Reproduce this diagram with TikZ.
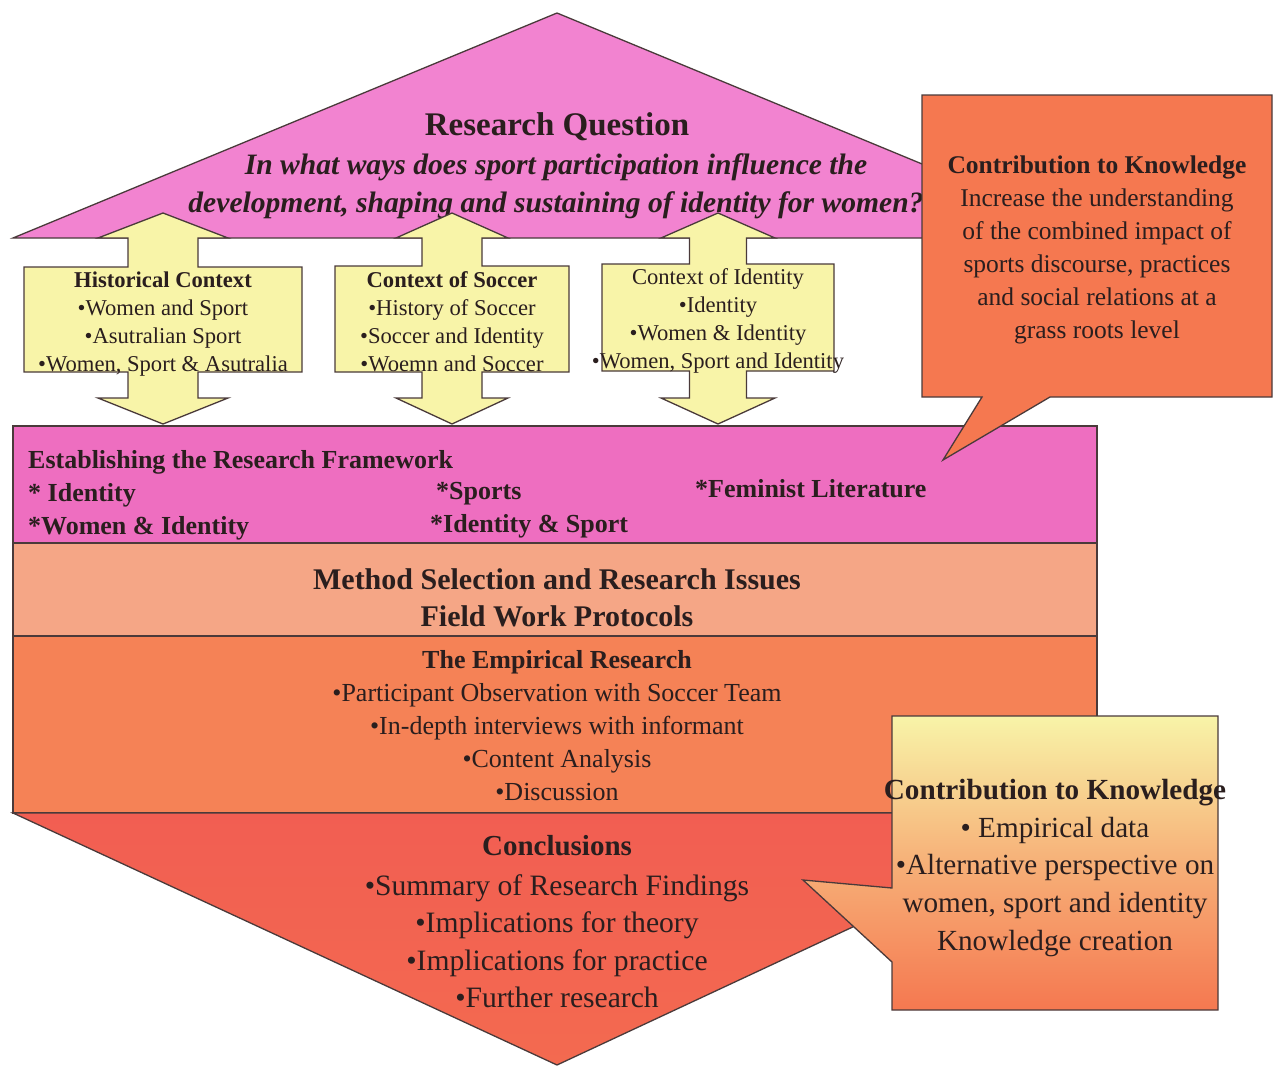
\documentclass[tikz,border=0pt]{standalone}
\usepackage{fontspec}
\setmainfont{Liberation Serif}
\definecolor{tri}{HTML}{F283D0}
\definecolor{bandpink}{HTML}{EE6EC0}
\definecolor{salmon}{HTML}{F5A686}
\definecolor{orng}{HTML}{F58256}
\definecolor{concl}{HTML}{F25E52}
\definecolor{conclb}{HTML}{F36A50}
\definecolor{callA}{HTML}{F57850}
\definecolor{yel}{HTML}{F8F4A8}
\definecolor{edge}{HTML}{4A3A3A}
\definecolor{ink}{HTML}{2A1E1E}
\tikzset{
  shapeline/.style={draw=edge, line width=1.3pt, line join=miter},
  txt/.style={inner sep=0pt, text=ink, align=center},
}
\newcommand\udarrow[7]{%
 \filldraw[shapeline, fill=yel] (#1,213) -- (#1+#2,238) -- (#1+#3,238) -- (#1+#3,#6) -- (#5,#6) -- (#5,#7) -- (#1+#3,#7) -- (#1+#3,398) -- (#1+#2,398) -- (#1,424) -- (#1-#2,398) -- (#1-#3,398) -- (#1-#3,#7) -- (#4,#7) -- (#4,#6) -- (#1-#3,#6) -- (#1-#3,238) -- (#1-#2,238) -- cycle;}
\begin{document}
\begin{tikzpicture}[x=1pt, y=-1pt]
\useasboundingbox (0,0) rectangle (1278,1068);
% top triangle
\filldraw[shapeline, fill=tri] (557,13) -- (1101,238) -- (13,238) -- cycle;
\node[txt, font=\fontsize{33}{36}\selectfont\bfseries, anchor=base] (rq) at (557,135) {Research Question};
\node[txt, font=\fontsize{29.6}{38}\selectfont\bfseries\itshape] (rqt) at (556,186) {In what ways does sport participation influence the\\development, shaping and sustaining of identity for women?};
% double arrows
\udarrow{163}{65}{35}{24}{302}{267}{372}
\udarrow{452}{56}{30}{335}{569}{266}{372}
\udarrow{718}{57}{28.5}{602}{834}{264}{371}
\node[txt, font=\fontsize{22.6}{28}\selectfont] (hc) at (163,324) {\textbf{Historical Context}\\•Women and Sport\\•Asutralian Sport\\•Women, Sport \& Asutralia};
\node[txt, font=\fontsize{22.6}{28}\selectfont] (cs) at (452,322) {\textbf{Context of Soccer}\\•History of Soccer\\•Soccer and Identity\\•Woemn and Soccer};
\node[txt, font=\fontsize{22.6}{28}\selectfont] (ci) at (718,321) {Context of Identity\\•Identity\\•Women \& Identity\\•Women, Sport and Identity};
% bands
\filldraw[shapeline, fill=bandpink] (13,426) rectangle (1097,543);
\filldraw[shapeline, fill=salmon] (13,543) rectangle (1097,636);
\filldraw[shapeline, fill=orng] (13,636) rectangle (1097,813);
\path[shapeline, top color=concl, bottom color=conclb] (13,813) -- (1097,813) -- (557,1065) -- cycle;
% framework texts
\begin{scope}[every node/.style={txt, font=\fontsize{26}{28}\selectfont\bfseries, anchor=base west}]
\node (f0) at (28,468) {Establishing the Research Framework};
\node (f1) at (28,501) {* Identity};
\node (f2) at (28,534) {*Women \& Identity};
\node (f3) at (436,499) {*Sports};
\node (f4) at (430,532) {*Identity \& Sport};
\node (f5) at (695,497) {*Feminist Literature};
\end{scope}
\node[txt, font=\fontsize{30}{37}\selectfont\bfseries] (ms) at (557,598) {Method Selection and Research Issues\\Field Work Protocols};
\node[txt, font=\fontsize{26}{33}\selectfont] (er) at (557,726) {\textbf{The Empirical Research}\\•Participant Observation with Soccer Team\\•In-depth interviews with informant\\•Content Analysis\\•Discussion};
\node[txt, font=\fontsize{29}{33}\selectfont\bfseries, anchor=base] (cn) at (557,855) {Conclusions};
\node[txt, font=\fontsize{29.6}{37.5}\selectfont] (cl) at (557,941) {•Summary of Research Findings\\•Implications for theory\\•Implications for practice\\•Further research};
% callout 1
\filldraw[shapeline, fill=callA] (922,95) -- (1272,95) -- (1272,397) -- (1050,397) -- (943,460) -- (982,397) -- (922,397) -- cycle;
\node[txt, font=\fontsize{25.5}{33}\selectfont] (ck1) at (1097,249.5) {\textbf{Contribution to Knowledge}\\Increase the understanding\\of the combined impact of\\sports discourse, practices\\and social relations at a\\grass roots level};
% callout 2
\path[shapeline, top color=yel, bottom color=callA, middle color=yel!45!callA] (892,716) -- (1218,716) -- (1218,1010) -- (892,1010) -- (892,962) -- (803,880) -- (892,888) -- cycle;
\node[txt, font=\fontsize{29.2}{37.75}\selectfont] (ck2) at (1055,868) {\textbf{Contribution to Knowledge}\\• Empirical data\\•Alternative perspective on\\women, sport and identity\\Knowledge creation};
\end{tikzpicture}
\end{document}
